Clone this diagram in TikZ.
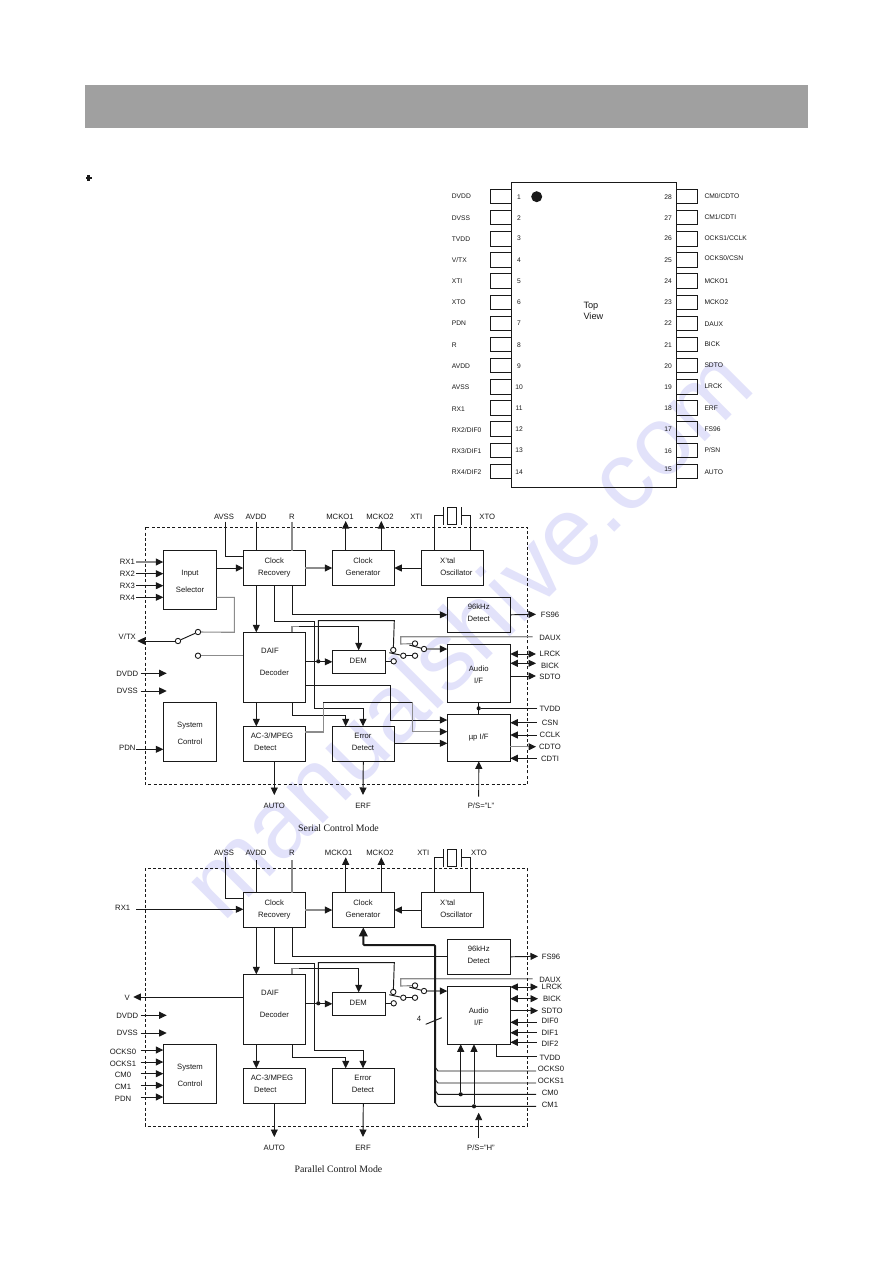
\documentclass[tikz,border=0pt]{standalone}
\usepackage{fontspec}
\setmainfont{Liberation Sans}
\newfontfamily\capfont{Liberation Serif}
\usetikzlibrary{arrows.meta}
\definecolor{wmark}{RGB}{226,226,250}
\definecolor{band}{RGB}{160,160,160}
\definecolor{ink}{RGB}{25,25,25}
\definecolor{gline}{RGB}{140,140,140}
\tikzset{
  x=1pt,y=-1pt,
  wire/.style={draw=ink,line width=0.95pt},
  gwire/.style={draw=gline,line width=1.1pt},
  arr/.style={wire,-{Triangle[length=7.5pt,width=7pt]}},
  garr/.style={gwire,-{Triangle[length=7.5pt,width=7pt,color=ink,fill=ink]}},
  darr/.style={wire,{Triangle[length=7.5pt,width=7pt]}-{Triangle[length=7.5pt,width=7pt]}},
  blk/.style={draw=ink,line width=1pt,fill=none,inner sep=0pt,outer sep=0pt},
  txt/.style={text=ink,inner sep=0pt,text height=5.5pt,text depth=0pt,font=\fontsize{7.7}{9}\selectfont},
  pintxt/.style={text=ink,inner sep=0pt,text height=4.8pt,text depth=0pt,font=\fontsize{6.7}{8}\selectfont},
  swc/.style={circle,draw=ink,line width=0.9pt,fill=white,minimum size=5.4pt,inner sep=0pt},
  jdot/.style={circle,fill=ink,minimum size=4.2pt,inner sep=0pt},
}
\newcount\txn
% rectangular block given by its corners
\newcommand\blk[5]{%
  \pgfmathsetmacro\bcx{(#2+#4)/2}\pgfmathsetmacro\bcy{(#3+#5)/2}%
  \pgfmathsetmacro\bw{#4-#2}\pgfmathsetmacro\bh{#5-#3}%
  \node[blk,minimum width=\bw pt,minimum height=\bh pt] (#1) at (\bcx,\bcy) {};}
% centred text at a position
\newcommand\tx[3]{\global\advance\txn by 1
  \node[txt,name=tx\the\txn] at (#1,#2) {#3};}

% the part both control modes have in common;
% #1 = free end of AVSS, #2 = free end of AVDD and R, #3 = tip of the MCKO arrows
\newcommand\commonpart[3]{%
  \blk{cr}{243.3}{550.7}{305.3}{585.3}
  \blk{cg}{332.3}{550.7}{394.3}{585.3}
  \blk{xo}{421.7}{550.7}{483.3}{585.3}
  \blk{det}{447.3}{597.3}{510.3}{632.3}
  \blk{daif}{243.3}{632.3}{305.3}{702.3}
  \blk{dem}{332.3}{650.3}{385.7}{673.3}
  \blk{aif}{447.3}{644.3}{510.3}{702.3}
  \blk{sys}{163.3}{702.3}{216.7}{761.3}
  \blk{ac}{243.3}{726.3}{305.3}{761.3}
  \blk{err}{332.3}{726.3}{394.3}{761.3}
  \tx{274.3}{560.3}{Clock}\tx{274.3}{572.3}{Recovery}
  \tx{363}{560.3}{Clock}\tx{363}{572.3}{Generator}
  \tx{447.7}{560.3}{X'tal}\tx{456.3}{572.3}{Oscillator}
  \tx{478.7}{607}{96kHz}\tx{478.7}{619}{Detect}
  \tx{270}{651}{DAIF}\tx{274.3}{673}{Decoder}
  \tx{358.3}{661}{DEM}
  \tx{478.7}{669}{Audio}\tx{478.7}{680.5}{I/F}
  \tx{190}{724.7}{System}\tx{190}{742}{Control}
  \tx{272}{736}{AC-3/MPEG}\tx{265.3}{748}{Detect}
  \tx{363}{736}{Error}\tx{363}{748}{Detect}
  % supply and clock pins along the top edge
  \coordinate (avss) at (225.3,#1);
  \coordinate (avdd) at (256.3,#2);
  \coordinate (rpin) at (292,#2);
  \coordinate (mck1) at (345.7,#3);
  \coordinate (mck2) at (381.3,#3);
  \draw[wire] (avss) |- (cr.west |- 0,556);
  \draw[wire] (avdd) -- (avdd |- cr.north);
  \draw[gwire] (rpin) -- (rpin |- cr.north);
  \draw[arr] (mck1 |- cg.north) -- (mck1);
  \draw[arr] (mck2 |- cg.north) -- (mck2);
  % quartz crystal
  \blk{xtal}{447.7}{507.3}{456.7}{524.7}
  \coordinate (pla) at (443.3,515.7);
  \coordinate (plb) at (461,515.7);
  \draw[wire] (pla |- 0,507.3) -- (pla |- 0,524.7);
  \draw[wire] (plb |- 0,507.3) -- (plb |- 0,524.7);
  \draw[wire] (434.3,0 |- xo.north) |- (pla);
  \draw[wire] (470.3,0 |- xo.north) |- (plb);
  % clock paths
  \draw[garr] (cr.east) -- (cg.west);
  \draw[arr] (xo.west) -- (cg.east);
  \draw[arr] (256.3,0 |- cr.south) -- (256.3,0 |- daif.north);
  \draw[wire] (274.3,0 |- cr.south) |- (314.3,621.7) -- (314.3,708.3) -| (363,720);
  \draw[arr] (363,719) -- (363,0 |- err.north);
  \draw[arr] (292.3,0 |- daif.south) |- (345.7,715) -- (345.7,0 |- err.north);
  \draw[gwire] (292,0 |- daif.north) |- (300,626.3);
  \draw[wire] (299,626.3) -| (358.7,632);
  \draw[arr] (358.7,630) -- (358.7,0 |- dem.north);
  \draw[arr] (daif.east |- dem.west) -- (dem.west);
  \node[jdot] (jd) at (318.3,661.3) {};
  % input switch in front of the audio interface
  \node[swc] (sa) at (393.3,650) {};
  \node[swc] (sb) at (403.3,655.7) {};
  \node[swc] (sc) at (415,655.7) {};
  \node[swc] (sd) at (393.7,661.3) {};
  \node[swc] (se) at (415,643.5) {};
  \node[swc] (sf) at (424,649) {};
  \draw[wire] (jd) |- (394.3,620.7) -- (sa);
  \draw[wire] (dem.east |- sd) -- (sd);
  \draw[wire] (389.3,652.7) -- (sb);
  \draw[wire] (sb) -- (sc);
  \draw[wire] (409.3,645) -- (sf);
  \draw[garr] (sf) -- (aif.west |- sf);
  \coordinate (daux) at (532.7,636.7);
  \draw[gwire] (daux) -| (400.7,644) -- (se);
  % outputs and supply pins of the lower edge
  \coordinate (ao) at (274.3,795);
  \coordinate (ef) at (363,795);
  \draw[arr] (256.3,0 |- daif.south) -- (256.3,0 |- ac.north);
  \draw[arr] (ac.south) -- (ao);
  \draw[arr] (err.south) -- (ef);
  \tx{274.3}{806}{AUTO}\tx{363}{806}{ERF}
  \coordinate (dvd) at (140.7,673.3);
  \coordinate (dvs) at (140.7,691);
  \draw[arr] (dvd) -- (166.7,673.3);
  \draw[arr] (dvs) -- (166.7,691);
  \tx{127.3}{673.3}{DVDD}\tx{127.3}{691}{DVSS}
  \tx{550}{637.6}{DAUX}
}

\begin{document}
\begin{tikzpicture}
\path[use as bounding box,fill=white] (0,0) rectangle (893,1263);

% diagonal lettering behind everything
\node[rotate=45,text=wmark,inner sep=0pt,font=\fontsize{97}{100}\selectfont] (wm) at (466,632) {manualshive.com};

% page heading band and bullet
\fill[band] (85,85) rectangle (808,128);
\node[inner sep=0pt,minimum width=6pt,minimum height=2pt,fill=ink] (bh) at (88.5,178) {};
\node[inner sep=0pt,minimum width=2.5pt,minimum height=5.5pt,fill=ink] (bv) at (88.5,178) {};

% package outline with its 28 pins
\blk{ic}{511.3}{182.3}{676.7}{487.3}
\node[circle,fill=ink,minimum size=11pt,inner sep=0pt] (mark) at (536.7,196.7) {};
\foreach \n/\ly/\ny/\lab in {1/64/66/DVDD,2/128/128/DVSS,3/192/190/TVDD,4/255/254/V\slash TX,5/318/318/XTI,6/382/382/XTO,7/445/445/PDN,8/509/509/R,9/572/572/AVDD,10/637/636/AVSS,11/701/699/RX1,12/764/763/RX2\slash DIF0,13/829/826/RX3\slash DIF1,14/890/890/RX4\slash DIF2}{
  \pgfmathsetmacro\by{196.5+21.15*(\n-1)}
  \pgfmathsetmacro\ty{\by-7.2}\pgfmathsetmacro\tb{\by+7.2}
  \draw[blk] (490,\ty) rectangle (511.3,\tb);
  \node[pintxt,anchor=west,name=pl\n] at (451.7,{175+\ly/3}) {\lab};
  \node[pintxt,name=pn\n] at (519,{175+\ny/3}) {\n};
}
\foreach \n/\ly/\ny/\lab in {28/62/66/CM0\slash CDTO,27/127/128/CM1\slash CDTI,26/190/190/OCKS1\slash CCLK,25/250/254/OCKS0\slash CSN,24/317/318/MCKO1,23/381/382/MCKO2,22/447/445/DAUX,21/508/509/BICK,20/571/572/SDTO,19/634/635/LRCK,18/698/699/ERF,17/762/763/FS96,16/825/827/P\slash SN,15/891/882/AUTO}{
  \pgfmathsetmacro\by{196.5+21.15*(28-\n)}
  \pgfmathsetmacro\ty{\by-7.2}\pgfmathsetmacro\tb{\by+7.2}
  \draw[blk] (676.7,\ty) rectangle (697.3,\tb);
  \node[pintxt,anchor=west,name=pl\n] at (704.3,{175+\ly/3}) {\lab};
  \node[pintxt,name=pn\n] at (668,{175+\ny/3}) {\n};
}
\node[txt,anchor=west,font=\fontsize{9.2}{11}\selectfont,name=top] at (583.3,306) {Top};
\node[txt,anchor=west,font=\fontsize{9.2}{11}\selectfont,name=view] at (583.3,316.7) {View};

% ---------- serial control mode ----------
\begin{scope}[name prefix=s-]
\draw[wire,dashed,dash pattern=on 3pt off 2.2pt] (145.3,527.3) rectangle (527.3,784.3);
\commonpart{521.7}{521.7}{521}
\tx{224}{516.7}{AVSS}\tx{256}{516.7}{AVDD}\tx{292}{516.7}{R}
\tx{340}{516.7}{MCKO1}\tx{380}{516.7}{MCKO2}\tx{416.3}{516.7}{XTI}\tx{487.3}{516.7}{XTO}
\blk{sel}{163.3}{550.7}{216.7}{609.3}
\blk{up}{447.3}{714.3}{510.3}{761.3}
\tx{190}{572.3}{Input}\tx{190}{589.7}{Selector}\tx{478.7}{736.3}{µp I/F}
\draw[arr] (sel.east |- cr.west) -- (cr.west);
\foreach \nm/\y/\st in {RX1/562/garr,RX2/573.7/arr,RX3/585.7/arr,RX4/597.3/arr}{
  \coordinate (e\nm) at (136,\y);
  \draw[\st] (e\nm) -- (sel.west |- e\nm);
  \tx{127.3}{\y}{\nm}
}
% transmit switch
\node[swc] (ta) at (198,632) {};
\node[swc] (tb) at (178,641) {};
\node[swc] (tc) at (198,655.7) {};
\coordinate (vtx) at (137.3,641);
\draw[gwire] (sel.east |- 0,597.3) -| (234.3,632.3) -- (ta);
\draw[wire] (tb) -- (ta);
\draw[arr] (tb) -- (vtx);
\draw[gwire] (tc) -- (daif.west |- tc);
\tx{127.3}{636.3}{V/TX}
\coordinate (pd) at (136,749.3);
\draw[arr] (pd) -- (sys.west |- pd);
\tx{127.3}{748}{PDN}
% routes to the host interface
\draw[arr] (292.3,0 |- cr.south) |- (det.west);
\draw[wire] (daif.east |- 0,685) -| (390.3,720);
\draw[arr] (390.3,720) -- (up.west |- 0,720);
\draw[gwire] (ac.east |- 0,732) -| (323.3,702);
\draw[wire] (323.3,702) -- (412.3,702);
\draw[gwire] (412.3,702) -- (412.3,731.7);
\draw[garr] (412.3,731.7) -- (up.west |- 0,731.7);
\draw[arr] (err.east |- 0,743.3) -- (up.west |- 0,743.3);
% right-hand pins
\coordinate (fs) at (536,614.3);
\draw[arr] (det.east) -- (fs);
\tx{550}{614.3}{FS96}
\foreach \nm/\y/\ly/\st in {LRCK/654/654/darr,BICK/663.3/665.7/darr,SDTO/676/677/arr}{
  \coordinate (p\nm) at (536,\y);
  \draw[\st] (aif.east |- p\nm) -- (p\nm);
  \tx{550}{\ly}{\nm}
}
\foreach \nm/\y in {CSN/722.7,CCLK/735,CDTI/758.3}{
  \coordinate (p\nm) at (536.7,\y);
  \draw[arr] (p\nm) -- (up.east |- p\nm);
  \tx{550}{\y}{\nm}
}
\coordinate (pcdto) at (536,746.7);
\draw[garr] (up.east |- pcdto) -- (pcdto);
\tx{550}{746.7}{CDTO}
\coordinate (ptv) at (537.3,708.3);
\node[jdot] (jtv) at (478.7,708.3) {};
\draw[wire] (ptv) -- (jtv);
\draw[wire] (aif.south) -- (up.north);
\tx{550}{708.3}{TVDD}
\coordinate (ps) at (478.7,796.7);
\draw[arr] (ps) -- (up.south);
\tx{481}{806}{P/S="L"}
\node[text=ink,inner sep=0pt,font=\capfont\fontsize{9.8}{11}\selectfont,name=capa] at (338.5,828) {Serial Control Mode};
\end{scope}

% ---------- parallel control mode ----------
\begin{scope}[name prefix=p-,shift={(0,342)}]
\commonpart{514.7}{518}{515.3}
\end{scope}
\begin{scope}[name prefix=p-]
\draw[wire,dashed,dash pattern=on 3pt off 2.2pt] (145.3,868.3) rectangle (527.3,1126);
\tx{224}{852.7}{AVSS}\tx{256}{852.7}{AVDD}\tx{292}{852.7}{R}
\tx{338.6}{852.7}{MCKO1}\tx{380}{852.7}{MCKO2}\tx{423.3}{852.7}{XTI}\tx{479}{852.7}{XTO}
\coordinate (rx) at (136,909.3);
\draw[arr] (rx) -- (cr.west |- rx);
\tx{122.7}{908}{RX1}
\coordinate (vp) at (133.3,997);
\draw[arr] (daif.west |- vp) -- (vp);
\tx{127.3}{998}{V}
\foreach \nm/\y in {OCKS0/1050,OCKS1/1062,CM0/1073.7,CM1/1085.3,PDN/1097}{
  \coordinate (e\nm) at (140.7,\y);
  \draw[arr] (e\nm) -- (sys.west |- e\nm);
  \tx{123}{\y+1.3}{\nm}
}
\draw[wire] (292.3,0 |- cr.south) |- (det.west);
\coordinate (fs) at (538,956.3);
\draw[arr] (det.east) -- (fs);
\tx{551}{956.3}{FS96}
\foreach \nm/\y/\ly/\st in {LRCK/987/987/darr,BICK/998.7/998.7/darr,SDTO/1010.7/1010.7/arr}{
  \coordinate (p\nm) at (538,\y);
  \draw[\st] (aif.east |- p\nm) -- (p\nm);
  \tx{552}{\ly}{\nm}
}
\foreach \nm/\y/\ly in {DIF0/1022.3/1021,DIF1/1032.7/1032.5,DIF2/1042.3/1044}{
  \coordinate (p\nm) at (536.7,\y);
  \draw[arr] (p\nm) -- (aif.east |- p\nm);
  \tx{550}{\ly}{\nm}
}
\coordinate (ptv) at (536.7,1056.3);
\draw[wire] (496.3,0 |- aif.south) |- (ptv);
\tx{550}{1057.7}{TVDD}
% four-wire mode bus running up to the clock generator
\coordinate (bt) at (435,1103);
\draw[line width=2pt,draw=ink,rounded corners=1pt,-{Triangle[length=9pt,width=8.5pt]}] (bt) |- (363.3,945) -- (363.3,0 |- cg.south);
\foreach \nm/\y/\ly/\lx in {OCKS0/1071/1069/551,OCKS1/1083/1081/551,CM0/1094.3/1093/550,CM1/1106.3/1104.7/550}{
  \coordinate (q\nm) at (536,\y);
  \coordinate (r\nm) at (435,\y-4);
  \draw[wire] (r\nm) -- (438,\y) -- (q\nm);
  \tx{\lx}{\ly}{\nm}
}
\node[jdot] (ja) at (460.7,1094.3) {};
\node[jdot] (jb) at (474,1106.3) {};
\draw[arr] (ja) -- (ja |- aif.south);
\draw[arr] (jb) -- (jb |- aif.south);
\coordinate (ps) at (478.7,1138.3);
\coordinate (pt) at (478.7,1112.7);
\draw[arr] (ps) -- (pt);
\tx{481}{1147.7}{P/S="H"}
\coordinate (sa) at (425.7,1024.3);
\coordinate (sb) at (441.7,1017.7);
\draw[wire] (sa) -- (sb);
\tx{419}{1019}{4}
\node[text=ink,inner sep=0pt,font=\capfont\fontsize{9.8}{11}\selectfont,name=capb] at (338.5,1169) {Parallel Control Mode};
\end{scope}
\end{tikzpicture}
\end{document}
